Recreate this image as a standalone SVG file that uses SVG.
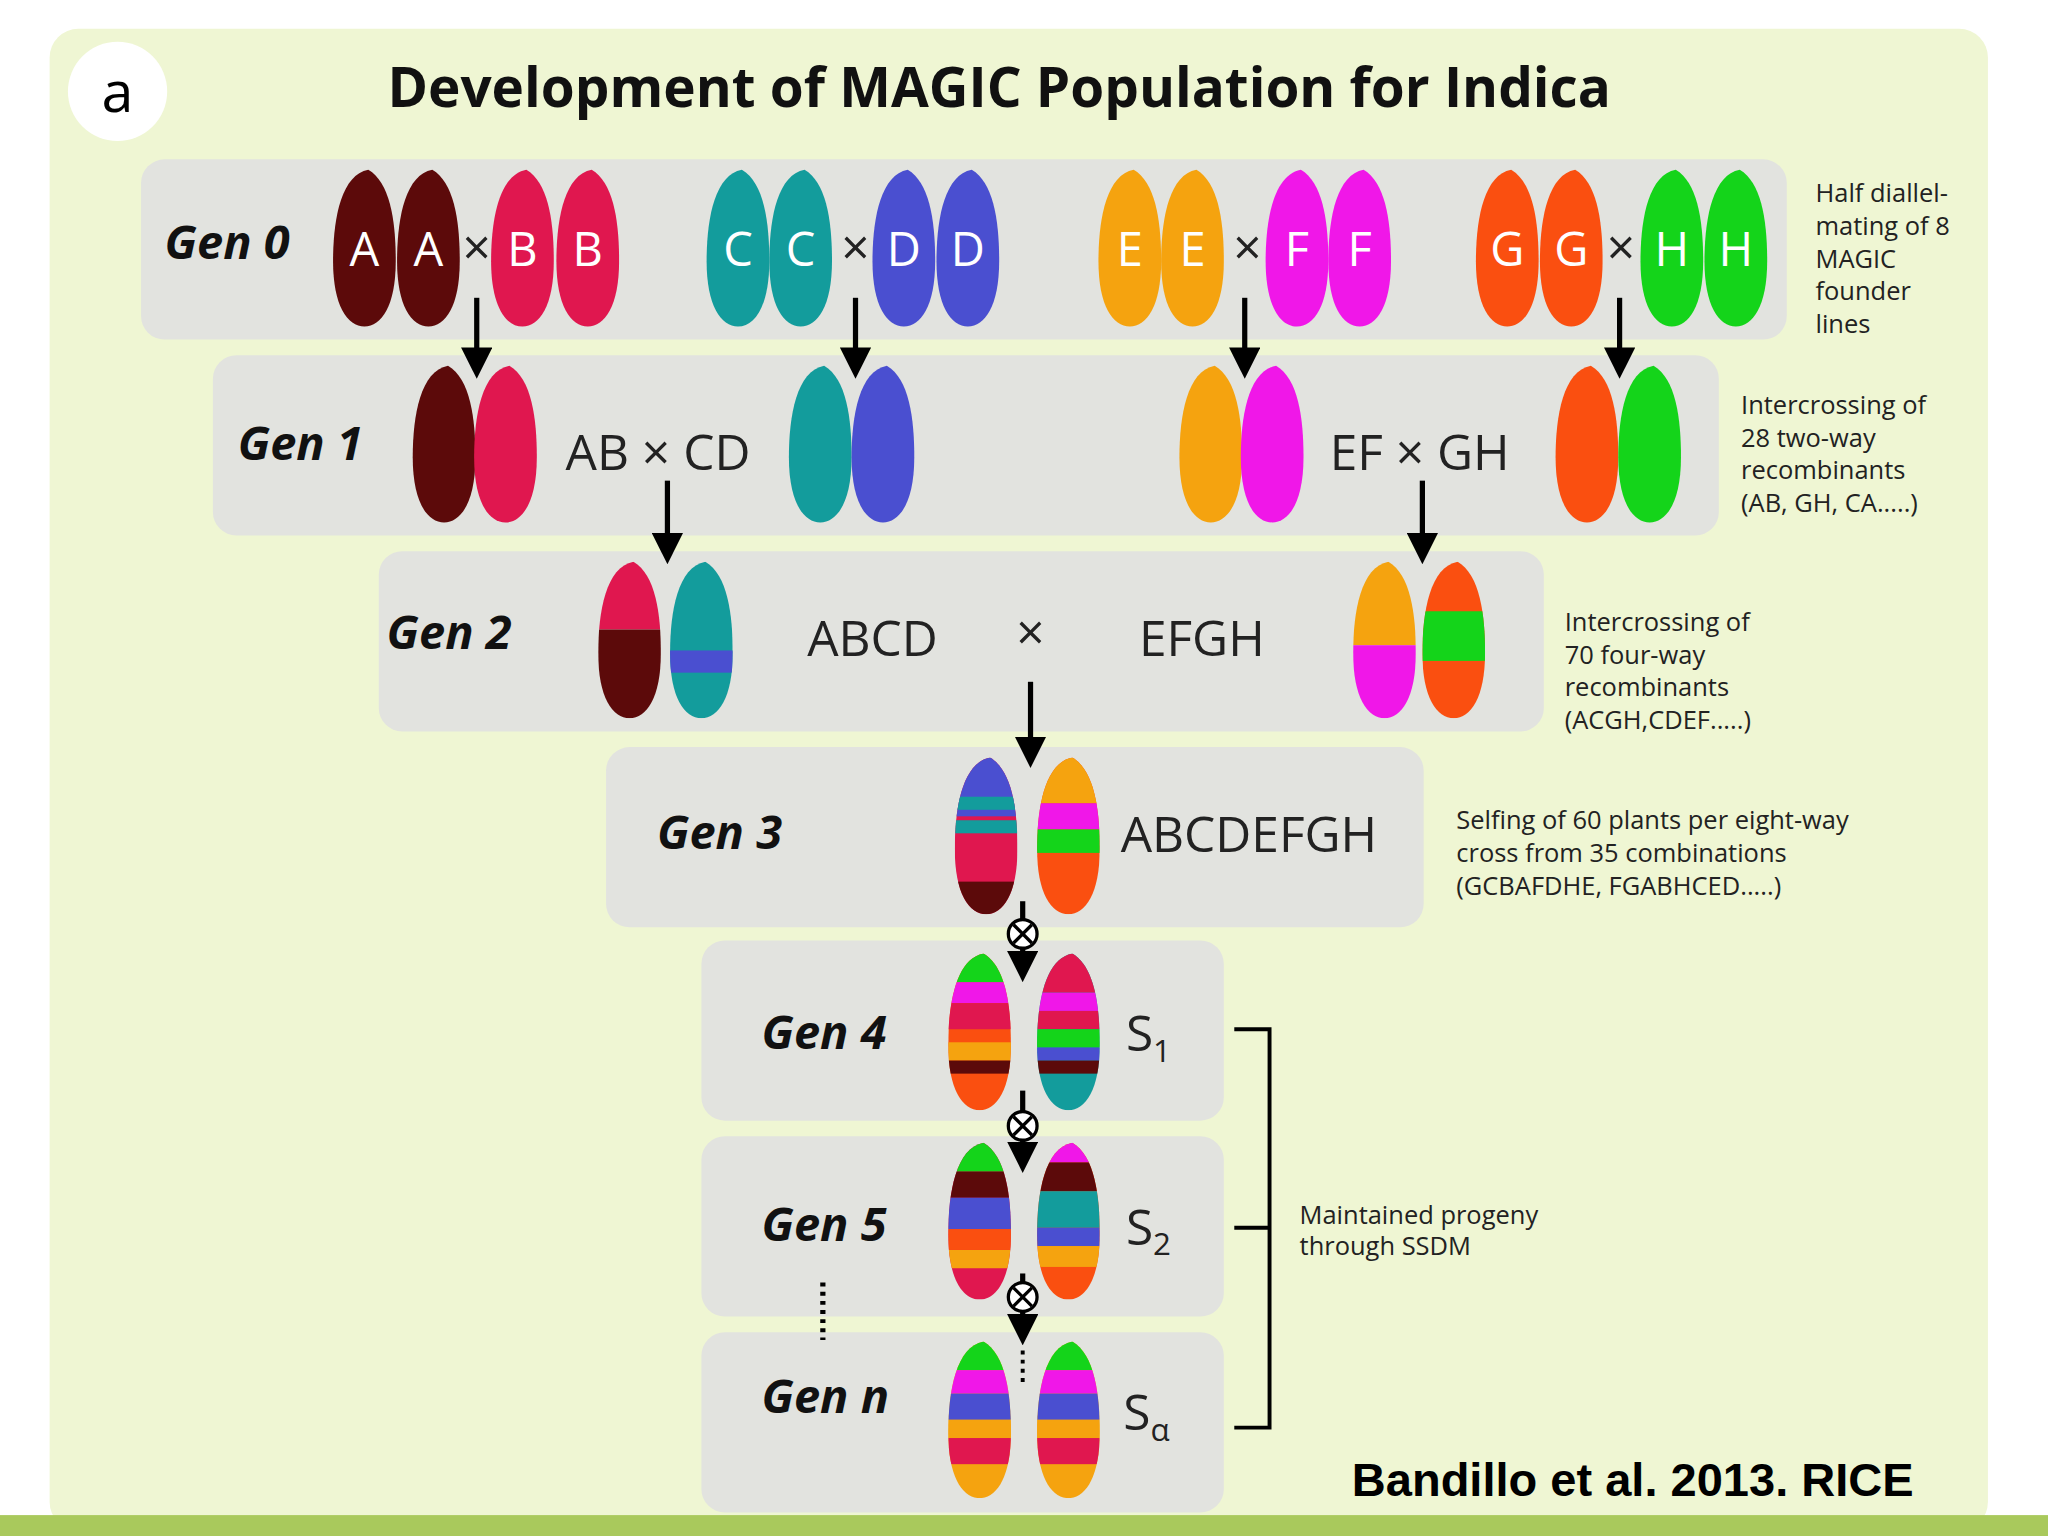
<svg xmlns="http://www.w3.org/2000/svg" width="2048" height="1536" viewBox="0 0 2048 1536">
<style>
.box{fill:#e2e3df}
.gen{font-family:"Open Sans","DejaVu Sans",sans-serif;font-weight:bold;font-style:italic;font-size:36px;fill:#111}
.lab{font-family:"Open Sans","DejaVu Sans",sans-serif;font-size:38px;fill:#222}
.let{font-family:"Open Sans","DejaVu Sans",sans-serif;font-size:36px;fill:#fff;text-anchor:middle}
.note{font-family:"Open Sans","DejaVu Sans",sans-serif;font-size:19.5px;fill:#222}
.arr{stroke:#000;stroke-width:4;fill:none;marker-end:url(#ah)}
</style>
<defs>
<marker id="ah" markerWidth="6" markerHeight="6" refX="4" refY="3" orient="auto" markerUnits="strokeWidth"><path d="M0,0 L6,3 L0,6Z" fill="#000"/></marker>
<path id="seed" d="M3,-60 C-18,-56 -24,-22 -24,10 C-24,44 -13,60 0,60 C13,60 24,44 24,10 C24,-20 20,-50 3,-60Z"/>
<clipPath id="sc"><use href="#seed"/></clipPath>
<g id="x"><circle r="11" fill="#fff" stroke="#000" stroke-width="2.5"/><path d="M-7,-7 L7,7 M-7,7 L7,-7" stroke="#000" stroke-width="2.5"/></g>
</defs>
<rect width="2048" height="1536" fill="#fff"/>
<g transform="scale(1.30612)">
<rect x="38" y="22" width="1484" height="1150" rx="22" fill="#eff6d3"/>
<rect x="0" y="1160" width="1568" height="16" fill="#a9c95c"/>
<circle cx="90" cy="70" r="38" fill="#fff"/>
<text x="90" y="86" font-family="Open Sans,DejaVu Sans,sans-serif" font-size="44" text-anchor="middle">a</text>
<text x="765" y="82" font-family="Open Sans,DejaVu Sans,sans-serif" font-size="42" font-weight="bold" text-anchor="middle" fill="#111">Development of MAGIC Population for Indica</text>

<g id="gen0"><rect class="box" x="108" y="122" width="1260" height="138" rx="18"/>
<text class="gen" x="126" y="198">Gen 0</text>
<g transform="translate(279,190)"><use href="#seed" fill="#5c0a0a"/><text class="let" y="14">A</text></g>
<g transform="translate(328,190)"><use href="#seed" fill="#5c0a0a"/><text class="let" y="14">A</text></g>
<g transform="translate(400,190)"><use href="#seed" fill="#e0174f"/><text class="let" y="14">B</text></g>
<g transform="translate(450,190)"><use href="#seed" fill="#e0174f"/><text class="let" y="14">B</text></g>
<g transform="translate(565,190)"><use href="#seed" fill="#139c9c"/><text class="let" y="14">C</text></g>
<g transform="translate(613,190)"><use href="#seed" fill="#139c9c"/><text class="let" y="14">C</text></g>
<g transform="translate(692,190)"><use href="#seed" fill="#4a4fd0"/><text class="let" y="14">D</text></g>
<g transform="translate(741,190)"><use href="#seed" fill="#4a4fd0"/><text class="let" y="14">D</text></g>
<g transform="translate(865,190)"><use href="#seed" fill="#f5a30f"/><text class="let" y="14">E</text></g>
<g transform="translate(913,190)"><use href="#seed" fill="#f5a30f"/><text class="let" y="14">E</text></g>
<g transform="translate(993,190)"><use href="#seed" fill="#f017e8"/><text class="let" y="14">F</text></g>
<g transform="translate(1041,190)"><use href="#seed" fill="#f017e8"/><text class="let" y="14">F</text></g>
<g transform="translate(1154,190)"><use href="#seed" fill="#fa4f10"/><text class="let" y="14">G</text></g>
<g transform="translate(1203,190)"><use href="#seed" fill="#fa4f10"/><text class="let" y="14">G</text></g>
<g transform="translate(1280,190)"><use href="#seed" fill="#14d41a"/><text class="let" y="14">H</text></g>
<g transform="translate(1329,190)"><use href="#seed" fill="#14d41a"/><text class="let" y="14">H</text></g>
<text class="lab" x="365" y="203" text-anchor="middle" font-size="30">×</text>
<text class="lab" x="655" y="203" text-anchor="middle" font-size="30">×</text>
<text class="lab" x="955" y="203" text-anchor="middle" font-size="30">×</text>
<text class="lab" x="1241" y="203" text-anchor="middle" font-size="30">×</text>
</g>
<text class="note" x="1390" y="155">Half diallel-</text><text class="note" x="1390" y="180">mating of 8</text><text class="note" x="1390" y="205">MAGIC</text><text class="note" x="1390" y="230">founder</text><text class="note" x="1390" y="255">lines</text>

<g id="gen1"><rect class="box" x="163" y="272" width="1153" height="138" rx="18"/>
<text class="gen" x="182" y="352">Gen 1</text>
<use href="#seed" x="340" y="340" fill="#5c0a0a"/><use href="#seed" x="387" y="340" fill="#e0174f"/>
<use href="#seed" x="628" y="340" fill="#139c9c"/><use href="#seed" x="676" y="340" fill="#4a4fd0"/>
<use href="#seed" x="927" y="340" fill="#f5a30f"/><use href="#seed" x="974" y="340" fill="#f017e8"/>
<use href="#seed" x="1215" y="340" fill="#fa4f10"/><use href="#seed" x="1263" y="340" fill="#14d41a"/>
<text class="lab" x="433" y="360">AB × CD</text><text class="lab" x="1018" y="360">EF × GH</text>
</g>
<text class="note" x="1333" y="317">Intercrossing of</text><text class="note" x="1333" y="342">28 two-way</text><text class="note" x="1333" y="367">recombinants</text><text class="note" x="1333" y="392">(AB, GH, CA.....)</text>

<g id="gen2"><rect class="box" x="290" y="422" width="892" height="138" rx="18"/>
<text class="gen" x="296" y="497">Gen 2</text>
<g transform="translate(482,490)" clip-path="url(#sc)"><rect x="-30" y="-70" width="60" height="62" fill="#e0174f"/><rect x="-30" y="-8" width="60" height="80" fill="#5c0a0a"/></g>
<g transform="translate(537,490)" clip-path="url(#sc)"><rect x="-30" y="-70" width="60" height="140" fill="#139c9c"/><rect x="-30" y="8" width="60" height="17" fill="#4a4fd0"/></g>
<g transform="translate(1060,490)" clip-path="url(#sc)"><rect x="-30" y="-70" width="60" height="74" fill="#f5a30f"/><rect x="-30" y="4" width="60" height="70" fill="#f017e8"/></g>
<g transform="translate(1113,490)" clip-path="url(#sc)"><rect x="-30" y="-70" width="60" height="140" fill="#fa4f10"/><rect x="-30" y="-22" width="60" height="38" fill="#14d41a"/></g>
<text class="lab" x="618" y="502">ABCD</text><text class="lab" x="789" y="498" text-anchor="middle" font-size="32">×</text><text class="lab" x="872" y="502">EFGH</text>
</g>
<text class="note" x="1198" y="483">Intercrossing of</text><text class="note" x="1198" y="508">70 four-way</text><text class="note" x="1198" y="533">recombinants</text><text class="note" x="1198" y="558">(ACGH,CDEF.....)</text>

<g id="gen3"><rect class="box" x="464" y="572" width="626" height="138" rx="18"/>
<text class="gen" x="503" y="650">Gen 3</text>
<g transform="translate(755,640)" clip-path="url(#sc)"><rect x="-30" y="-70" width="60" height="140" fill="#e0174f"/><rect x="-30" y="-70" width="60" height="55" fill="#4a4fd0"/><rect x="-30" y="-30" width="60" height="10" fill="#139c9c"/><rect x="-30" y="-12" width="60" height="10" fill="#139c9c"/><rect x="-30" y="35" width="60" height="35" fill="#5c0a0a"/></g>
<g transform="translate(818,640)" clip-path="url(#sc)"><rect x="-30" y="-70" width="60" height="140" fill="#fa4f10"/><rect x="-30" y="-70" width="60" height="45" fill="#f5a30f"/><rect x="-30" y="-25" width="60" height="20" fill="#f017e8"/><rect x="-30" y="-5" width="60" height="18" fill="#14d41a"/></g>
<text class="lab" x="858" y="652">ABCDEFGH</text>
</g>
<text class="note" x="1115" y="635">Selfing of 60 plants per eight-way</text><text class="note" x="1115" y="660">cross from 35 combinations</text><text class="note" x="1115" y="685">(GCBAFDHE, FGABHCED.....)</text>

<g id="gen4"><rect class="box" x="537" y="720" width="400" height="138" rx="18"/>
<text class="gen" x="583" y="803">Gen 4</text>
<g transform="translate(750,790)" clip-path="url(#sc)"><rect x="-30" y="-70" width="60" height="140" fill="#fa4f10"/><rect x="-30" y="-70" width="60" height="32" fill="#14d41a"/><rect x="-30" y="-38" width="60" height="16" fill="#f017e8"/><rect x="-30" y="-22" width="60" height="20" fill="#e0174f"/><rect x="-30" y="8" width="60" height="14" fill="#f5a30f"/><rect x="-30" y="22" width="60" height="10" fill="#5c0a0a"/></g>
<g transform="translate(818,790)" clip-path="url(#sc)"><rect x="-30" y="-70" width="60" height="140" fill="#139c9c"/><rect x="-30" y="-70" width="60" height="40" fill="#e0174f"/><rect x="-30" y="-30" width="60" height="14" fill="#f017e8"/><rect x="-30" y="-16" width="60" height="14" fill="#e0174f"/><rect x="-30" y="-2" width="60" height="14" fill="#14d41a"/><rect x="-30" y="12" width="60" height="10" fill="#4a4fd0"/><rect x="-30" y="22" width="60" height="10" fill="#5c0a0a"/></g>
<text class="lab" x="862" y="805">S<tspan font-size="24" dy="8">1</tspan></text>
</g>
<g id="gen5"><rect class="box" x="537" y="870" width="400" height="138" rx="18"/>
<text class="gen" x="583" y="950">Gen 5</text>
<g transform="translate(750,935)" clip-path="url(#sc)"><rect x="-30" y="-70" width="60" height="140" fill="#e0174f"/><rect x="-30" y="-70" width="60" height="32" fill="#14d41a"/><rect x="-30" y="-38" width="60" height="20" fill="#5c0a0a"/><rect x="-30" y="-18" width="60" height="24" fill="#4a4fd0"/><rect x="-30" y="6" width="60" height="16" fill="#fa4f10"/><rect x="-30" y="22" width="60" height="14" fill="#f5a30f"/></g>
<g transform="translate(818,935)" clip-path="url(#sc)"><rect x="-30" y="-70" width="60" height="140" fill="#fa4f10"/><rect x="-30" y="-70" width="60" height="25" fill="#f017e8"/><rect x="-30" y="-45" width="60" height="22" fill="#5c0a0a"/><rect x="-30" y="-23" width="60" height="28" fill="#139c9c"/><rect x="-30" y="5" width="60" height="14" fill="#4a4fd0"/><rect x="-30" y="19" width="60" height="16" fill="#f5a30f"/></g>
<text class="lab" x="862" y="953">S<tspan font-size="24" dy="8">2</tspan></text>
</g>
<g id="genn"><rect class="box" x="537" y="1020" width="400" height="138" rx="18"/>
<text class="gen" x="583" y="1082">Gen n</text>
<g transform="translate(750,1087)" clip-path="url(#sc)"><rect x="-30" y="-70" width="60" height="140" fill="#f5a30f"/><rect x="-30" y="-70" width="60" height="32" fill="#14d41a"/><rect x="-30" y="-38" width="60" height="18" fill="#f017e8"/><rect x="-30" y="-20" width="60" height="20" fill="#4a4fd0"/><rect x="-30" y="0" width="60" height="14" fill="#f5a30f"/><rect x="-30" y="14" width="60" height="20" fill="#e0174f"/></g>
<g transform="translate(818,1087)" clip-path="url(#sc)"><rect x="-30" y="-70" width="60" height="140" fill="#f5a30f"/><rect x="-30" y="-70" width="60" height="32" fill="#14d41a"/><rect x="-30" y="-38" width="60" height="18" fill="#f017e8"/><rect x="-30" y="-20" width="60" height="20" fill="#4a4fd0"/><rect x="-30" y="0" width="60" height="14" fill="#f5a30f"/><rect x="-30" y="14" width="60" height="20" fill="#e0174f"/></g>
<text class="lab" x="860" y="1095">S<tspan font-size="24" dy="8">α</tspan></text>
</g>

<g id="connectors">
<path class="arr" d="M365,228 V282"/><path class="arr" d="M655,228 V282"/><path class="arr" d="M953,228 V282"/><path class="arr" d="M1240,228 V282"/>
<path class="arr" d="M511,368 V424"/><path class="arr" d="M1089,368 V424"/>
<path class="arr" d="M789,522 V580"/>
<path class="arr" d="M783,690 V744"/><use href="#x" x="783" y="715"/>
<path class="arr" d="M783,835 V890"/><use href="#x" x="783" y="862"/>
<path class="arr" d="M783,975 V1022"/><use href="#x" x="783" y="993"/>
<path d="M783,1034 V1062" stroke="#000" stroke-width="3" stroke-dasharray="3,4"/>
<path d="M630,982 V1026" stroke="#000" stroke-width="4" stroke-dasharray="3,4"/>
<path d="M945,788 H972 V1093 H945 M945,940 H972" stroke="#000" stroke-width="3" fill="none"/>
</g>
<text class="note" x="995" y="937">Maintained progeny</text><text class="note" x="995" y="961">through SSDM</text>
<text x="1035" y="1145" font-family="Liberation Sans,Arial,sans-serif" font-weight="bold" font-size="36" fill="#000">Bandillo et al. 2013. RICE</text>
</g>
</svg>
